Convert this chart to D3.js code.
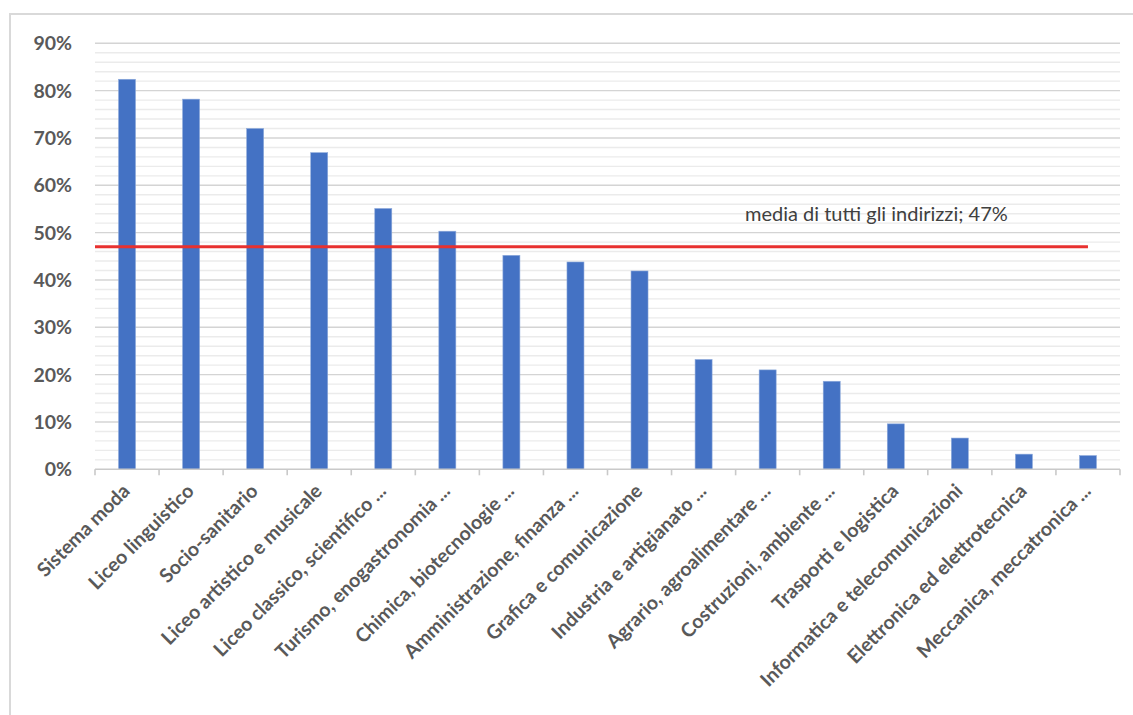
<!DOCTYPE html>
<meta charset="utf-8">
<style>
body { margin: 0; background: #fff; }
svg { font-family: Lato, "Open Sans", sans-serif; }
.ylab text { font-weight: bold; fill: #595959; font-size: 19.5px; }
.xlab text { font-weight: bold; fill: #595959; font-size: 19.5px; }
</style>
<svg width="1133" height="715"></svg>
<script src="https://d3js.org/d3.v7.min.js"></script>
<script>
// categories and values (share, %)
var categories = [
  "Sistema moda", "Liceo linguistico", "Socio-sanitario", "Liceo artistico e musicale",
  "Liceo classico, scientifico ...", "Turismo, enogastronomia ...", "Chimica, biotecnologie ...",
  "Amministrazione, finanza ...", "Grafica e comunicazione", "Industria e artigianato ...",
  "Agrario, agroalimentare ...", "Costruzioni, ambiente ...", "Trasporti e logistica",
  "Informatica e telecomunicazioni", "Elettronica ed elettrotecnica", "Meccanica, meccatronica ..."
];
var values = [82.4, 78.2, 72.0, 66.9, 55.1, 50.3, 45.2, 43.8, 41.9, 23.2, 21.0, 18.6, 9.6, 6.6, 3.2, 2.9];
var meanValue = 47;
var meanLabel = "media di tutti gli indirizzi; 47%";
var yTicks = [0, 10, 20, 30, 40, 50, 60, 70, 80, 90];
var yMinor = d3.range(0, 91, 2);

var svg = d3.select("svg");

// outer frame
svg.append("path")
  .attr("d", "M10,715 V14 H1133")
  .attr("fill", "none")
  .attr("stroke", "#d9d9d9")
  .attr("stroke-width", 2);

var x = d3.scaleBand().domain(categories).range([95, 1120]);
var y = d3.scaleLinear().domain([0, 90]).range([469.3, 43.3]);

// minor grid
svg.append("g").selectAll("line")
  .data(yMinor.filter(function(d) { return d % 10 != 0; }))
  .enter().append("line")
  .attr("x1", 95).attr("x2", 1120)
  .attr("y1", function(d) { return y(d); })
  .attr("y2", function(d) { return y(d); })
  .attr("stroke", "#ebebeb")
  .attr("stroke-width", 1.4);

// major grid
svg.append("g").selectAll("line")
  .data(yTicks.slice(1))
  .enter().append("line")
  .attr("x1", 95).attr("x2", 1120)
  .attr("y1", function(d) { return y(d); })
  .attr("y2", function(d) { return y(d); })
  .attr("stroke", "#d4d4d4")
  .attr("stroke-width", 1.4);

// y labels
svg.append("g").attr("class", "ylab").selectAll("text")
  .data(yTicks)
  .enter().append("text")
  .attr("x", 72)
  .attr("y", function(d) { return y(d) + 7; })
  .attr("text-anchor", "end")
  .text(function(d) { return d + "%"; });

// bars
var bw = 17;
svg.append("g").selectAll("rect")
  .data(values)
  .enter().append("rect")
  .attr("x", function(d, i) { return x(categories[i]) + x.bandwidth() / 2 - bw / 2; })
  .attr("y", function(d) { return y(d); })
  .attr("width", bw)
  .attr("height", function(d) { return y(0) - y(d); })
  .attr("fill", "#4472c4")
  .attr("stroke", "#8eaadb")
  .attr("stroke-width", 0.6);

// x axis line + ticks
svg.append("line")
  .attr("x1", 95).attr("x2", 1120)
  .attr("y1", y(0)).attr("y2", y(0))
  .attr("stroke", "#c9c9c9").attr("stroke-width", 1.6);
var edges = categories.map(function(c) { return x(c); }).concat([x.range()[1]]);
svg.append("g").selectAll("line")
  .data(edges)
  .enter().append("line")
  .attr("x1", function(d) { return d; }).attr("x2", function(d) { return d; })
  .attr("y1", y(0)).attr("y2", y(0) + 6)
  .attr("stroke", "#c9c9c9").attr("stroke-width", 1.6);

// x labels
svg.append("g").attr("class", "xlab").selectAll("text")
  .data(categories)
  .enter().append("text")
  .attr("text-anchor", "end")
  .attr("transform", function(d) {
    return "translate(" + (x(d) + x.bandwidth() / 2 + 4) + "," + (y(0) + 23) + ") rotate(-45)";
  })
  .text(function(d) { return d; });

// mean line
svg.append("line")
  .attr("x1", 95)
  .attr("x2", x(categories[categories.length - 1]) + x.bandwidth() / 2)
  .attr("y1", y(meanValue)).attr("y2", y(meanValue))
  .attr("stroke", "#e8312f").attr("stroke-width", 3);

svg.append("text")
  .attr("x", 745)
  .attr("y", 221)
  .attr("fill", "#404040")
  .style("font-size", "20px")
  .text(meanLabel);
</script>
